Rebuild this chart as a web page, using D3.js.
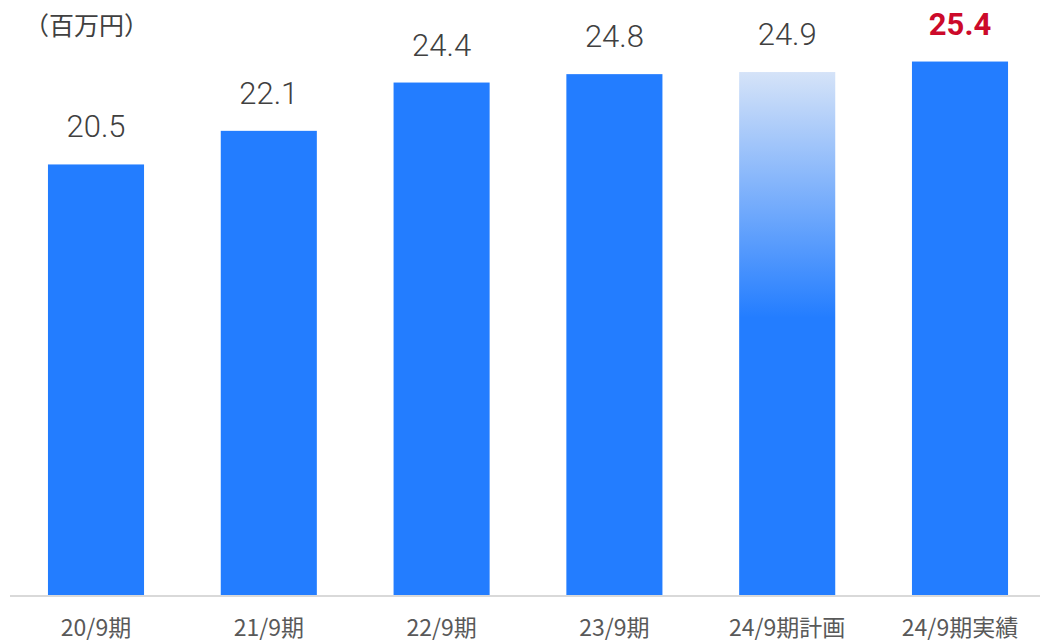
<!DOCTYPE html>
<html><head><meta charset="utf-8">
<script src="https://cdn.jsdelivr.net/npm/d3@7"></script>
<style>body{margin:0;background:#fff}svg{display:block}</style>
</head><body>
<svg id="c" width="1040" height="643"></svg>
<script>
const categories = ["20/9期","21/9期","22/9期","23/9期","24/9期計画","24/9期実績"];
const values = [20.5, 22.1, 24.4, 24.8, 24.9, 25.4];
const valueLabels = ["20.5","22.1","24.4","24.8","24.9","25.4"];
const unitLabel = "（百万円）";

const svg = d3.select("#c");
const base = 595;
const x = d3.scaleBand().domain(categories).range([9.6, 1046.4]).paddingInner(0.444).paddingOuter(0.222);
const y = d3.scaleLinear().domain([0, 28.33]).range([base, 0]);

const defs = svg.append("defs");
const g = defs.append("linearGradient").attr("id","plan").attr("x1",0).attr("y1",0).attr("x2",0).attr("y2",1);
g.append("stop").attr("offset","0%").attr("stop-color","#d5e3f8");
g.append("stop").attr("offset","47%").attr("stop-color","#237dff");
g.append("stop").attr("offset","100%").attr("stop-color","#237dff");

svg.append("g").selectAll("rect").data(values).join("rect")
  .attr("x",(d,i)=>x(categories[i]))
  .attr("width",x.bandwidth())
  .attr("y",d=>y(d))
  .attr("height",d=>base-y(d))
  .attr("fill",(d,i)=> i===4 ? "url(#plan)" : "#237dff");

svg.append("line").attr("x1",10).attr("x2",1040).attr("y1",base+1).attr("y2",base+1)
  .attr("stroke","#d9d9d9").attr("stroke-width",2);

svg.append("g").selectAll("text").data(values).join("text")
  .attr("x",(d,i)=>x(categories[i])+x.bandwidth()/2)
  .attr("y",d=>y(d)-27)
  .attr("text-anchor","middle")
  .attr("font-family","Roboto, sans-serif")
  .attr("font-size",31)
  .attr("font-weight",(d,i)=> i===5 ? 700 : 300)
  .attr("fill",(d,i)=> i===5 ? "#cc0a2a" : "#404040")
  .text((d,i)=>valueLabels[i]);

const xAxis = d3.axisBottom(x).tickSize(0).tickPadding(0);
const ax = svg.append("g").attr("transform",`translate(0,${base})`).call(xAxis);
ax.select(".domain").remove();
ax.selectAll("text").attr("dy",null).attr("y",41)
  .attr("font-family","'Noto Sans CJK JP', sans-serif").attr("font-size",23).attr("fill","#595959");

svg.append("text").attr("x",24).attr("y",35)
  .attr("font-family","'Noto Sans CJK JP', sans-serif").attr("font-size",25).attr("fill","#404040")
  .text(unitLabel);
</script>
</body></html>
